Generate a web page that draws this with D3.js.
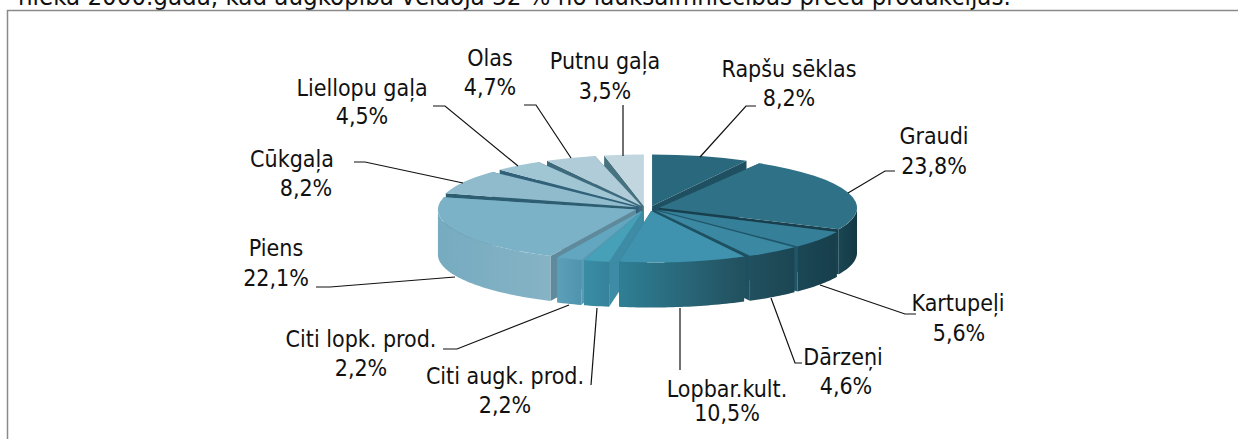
<!DOCTYPE html>
<html><head><meta charset="utf-8">
<script src="https://cdnjs.cloudflare.com/ajax/libs/d3/7.8.5/d3.min.js"></script>
<style>html,body{margin:0;padding:0;background:#fff;overflow:hidden}svg{display:block}
text{font-family:"DejaVu Sans Condensed","DejaVu Sans",sans-serif;fill:#111}</style>
</head><body><svg id="c" width="1238" height="439"></svg>
<script>
const categories=["Rapšu sēklas","Graudi","Kartupeļi","Dārzeņi","Lopbar.kult.","Citi augk. prod.","Citi lopk. prod.","Piens","Cūkgaļa","Liellopu gaļa","Olas","Putnu gaļa"];
const values=[8.2,23.8,5.6,4.6,10.5,2.2,2.2,22.1,8.2,4.5,4.7,3.5];
const valueLabels=["8,2%","23,8%","5,6%","4,6%","10,5%","2,2%","2,2%","22,1%","8,2%","4,5%","4,7%","3,5%"];
const topColors=["#2a687d","#2f7287","#367f98","#3a88a2","#3f93ae","#45a0b8","#62a7bf","#7cb2c7","#8fbbcc","#a0c5d3","#b0ccd8","#c2d6df"];
const wallLeft=["#1f4f60","#1a4654","#1b4755","#22505f","#2f7f95","#3a8ca5","#5c9fb8","#76abc0","#7fb0c2","#8fb8c8","#a0c0cd","#b0ccd6"];
const wallRight=["#1f4f60","#143844","#173e4b","#1b4552","#22505e","#35839b","#4f94ae","#86b3c5","#7fb0c2","#8fb8c8","#a0c0cd","#b0ccd6"];
const sideColors=["#1f5062","#183f4d","#20566a","#1f5062","#2b6c82","#3d8ba4","#5b9bb2","#5f8a9b","#2d5d70","#31607a","#3d6a7c","#47727f"];
const title="nieka 2000.gadā, kad augkopība veidoja 32 % no lauksaimniecības preču produkcijas.";

// layout: [label x, label y, value x, value y, leader points]
const labelLayout=[
 [789,70,789,99,[[756,106],[746,106],[700,157]]],
 [934,137,934,167,[[895,171],[885,171],[848,193]]],
 [958,304,959,334,[[916,314],[905,314],[820,285]]],
 [843,358,846,387,[[802,363],[795,363],[771,298]]],
 [727,390,727,414,[[680,370],[680,308]]],
 [505,377,505,406,[[591,385],[597,308]]],
 [361,340,361,369,[[443,349],[457,349],[569,305]]],
 [276,249,276,279,[[316,287],[330,287],[455,277]]],
 [292,160,306,189,[[354,162],[365,162],[463,183]]],
 [362,89,362,117,[[433,106],[445,106],[518,166]]],
 [490,59,490,88,[[524,105],[536,105],[571,158]]],
 [605,62,605,92,[[623,105],[623,156]]]
];

const W=1238,H=439,cx=647.25,cy=208.5,r=198,ratio=0.26,depth=45,explode=10,split=2.25;
const padAt=a=>Math.cos(a)>0?(Math.abs(Math.sin(a))<0.05?0:0.035):0.008;
const svg=d3.select("#c");
const defs=svg.append("defs");
svg.append("text").attr("x",18).attr("y",5).attr("font-size",25.6).text(title);
svg.append("path").attr("d",`M7.5,${H}V10.5H${W}`).attr("fill","none").attr("stroke","#8a8a8a").attr("stroke-width",1.5);

const slices=d3.pie().sort(null).startAngle(0).endAngle(2*Math.PI)(values);
const arc=d3.arc().innerRadius(0).outerRadius(r);
const line=d3.line();
const items=slices.map((s,i)=>{
  const mid=(s.startAngle+s.endAngle)/2;
  return {s:{startAngle:s.startAngle+padAt(s.startAngle)/2,endAngle:s.endAngle-padAt(s.endAngle)/2},i,mid,
    ox:explode*Math.sin(mid)+split*Math.sign(Math.sin(mid)),oy:-explode*Math.cos(mid)*ratio};
}).sort((a,b)=>Math.cos(b.mid)-Math.cos(a.mid));

const g=svg.append("g");
items.forEach(d=>{
  const {s,i,ox,oy}=d;
  const x0=cx+ox,y0=cy+oy;
  const pt=(a,rad,dz=0)=>[x0+rad*Math.sin(a),y0-rad*ratio*Math.cos(a)+dz];
  const grad=defs.append("linearGradient").attr("id","w"+i);
  grad.append("stop").attr("offset",0).attr("stop-color",wallLeft[i]);
  grad.append("stop").attr("offset",1).attr("stop-color",wallRight[i]);
  [s.endAngle,s.startAngle].forEach(a=>{
    g.append("path").attr("fill",sideColors[i])
     .attr("d",line([pt(0,0),pt(a,r),pt(a,r,depth),pt(0,0,depth)])+"Z");
  });
  const a0=Math.max(s.startAngle,Math.PI/2),a1=Math.min(s.endAngle,3*Math.PI/2);
  if(a1>a0){
    const angs=d3.range(a0,a1,0.02).concat([a1]);
    const pts=angs.map(a=>pt(a,r)).concat(angs.slice().reverse().map(a=>pt(a,r,depth)));
    g.append("path").attr("d",line(pts)+"Z").attr("fill",`url(#w${i})`);
  }
  g.append("path").attr("d",arc(s)).attr("fill",topColors[i])
   .attr("transform",`translate(${x0},${y0}) scale(1,${ratio})`);
});

const lab=svg.append("g").attr("font-size",23).attr("text-anchor","middle").attr("dominant-baseline","middle");
categories.forEach((c,i)=>{
  const [lx,ly,vx,vy,pts]=labelLayout[i];
  svg.append("path").attr("d",line(pts)).attr("fill","none").attr("stroke","#111").attr("stroke-width",1.2);
  lab.append("text").attr("x",lx).attr("y",ly).text(c);
  lab.append("text").attr("x",vx).attr("y",vy).text(valueLabels[i]);
});
</script></body></html>
